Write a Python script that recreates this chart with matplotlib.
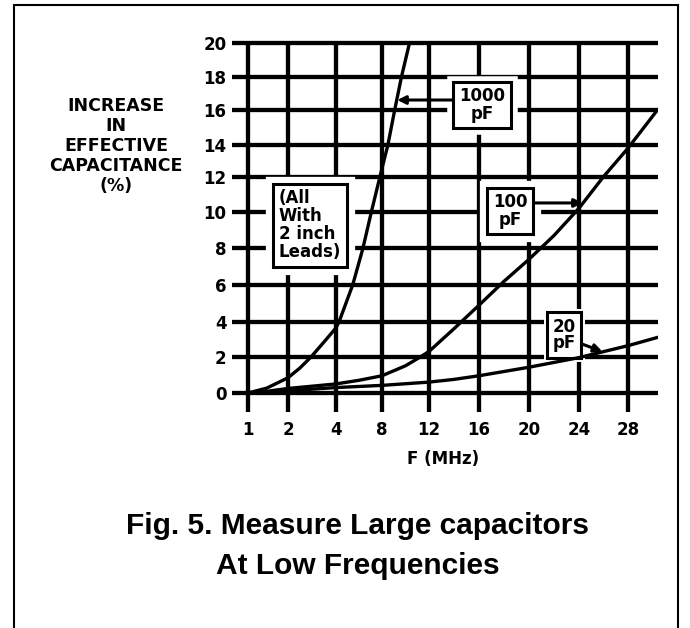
import matplotlib
matplotlib.use("Agg")
import matplotlib.pyplot as plt
import matplotlib.patheffects as pe
from matplotlib.patches import Rectangle
import numpy as np

# values
# F in MHz, increase in effective capacitance in %
x_ticks = [1, 2, 4, 8, 12, 16, 20, 24, 28]
y_ticks = [0, 2, 4, 6, 8, 10, 12, 14, 16, 18, 20]

f_1000 = [1, 1.47, 2, 2.5, 2.97, 3.6, 4, 4.27, 5.45, 6.34, 7.08, 7.82, 8.5, 9.08, 9.66, 10.34]
c_1000 = [0, 0.27, 0.84, 1.38, 2.0, 3.0, 3.65, 4.0, 6.0, 8.0, 10.0, 12.0, 14.0, 16.0, 18.0, 20.0]

f_100 = [1, 1.5, 2, 4, 6, 8, 10, 11.3, 12, 14, 16, 18, 20, 22, 24, 26, 28, 30.4]
c_100 = [0, 0.1, 0.25, 0.5, 0.7, 0.95, 1.5, 2.0, 2.3, 3.6, 4.9, 6.2, 7.4, 8.7, 10.2, 12.0, 13.8, 16.0]

f_20 = [1, 2, 4, 8, 12, 14, 16, 20, 24, 28, 30.4]
c_20 = [0, 0.12, 0.3, 0.42, 0.6, 0.75, 0.95, 1.42, 1.95, 2.63, 3.1]

# the hand drawn grid is not evenly spaced, so both axes use a piecewise scale
x_scale_val = [-10, 0, 1, 2, 4, 8, 12, 16, 20, 24, 28, 40]
x_scale_px = [-192, 208, 248, 288, 336, 382, 429, 479, 529, 579, 628, 775]
y_scale_val = [-10, 0, 2, 4, 6, 8, 10, 12, 14, 16, 18, 20, 30]
y_scale_px = [-181.5, 0, 36.3, 71.3, 108, 144.7, 181.3, 216.3, 248, 283, 316.3, 350, 516.5]


def fwd_x(v):
    return np.interp(v, x_scale_val, x_scale_px)


def inv_x(p):
    return np.interp(p, x_scale_px, x_scale_val)


def fwd_y(v):
    return np.interp(v, y_scale_val, y_scale_px)


def inv_y(p):
    return np.interp(p, y_scale_px, y_scale_val)


plt.rcParams['font.family'] = 'DejaVu Sans'
plt.rcParams['font.weight'] = 'bold'
plt.rcParams['axes.labelweight'] = 'bold'

fig = plt.figure(figsize=(6.9, 6.28), dpi=100)
ax = fig.add_axes([232 / 690, 216 / 628, 426 / 690, 370 / 628])
ax.set_xscale('function', functions=(fwd_x, inv_x))
ax.set_yscale('function', functions=(fwd_y, inv_y))
xlim = (float(inv_x(232)), float(inv_x(658)))
ylim = (float(inv_y(-19)), float(inv_y(351)))
ax.set_xlim(*xlim)
ax.set_ylim(*ylim)

for s in ax.spines.values():
    s.set_visible(False)

# heavy grid, lines run past the first line like tick stubs
ax.hlines(y_ticks, xlim[0], xlim[1], color='k', lw=3.1, zorder=1, clip_on=False)
ax.vlines(x_ticks, ylim[0], y_ticks[-1], color='k', lw=3.1, zorder=1, clip_on=False)

ax.set_xticks(x_ticks, [str(v) for v in x_ticks])
ax.set_yticks(y_ticks, [str(v) for v in y_ticks])
ax.tick_params(axis='both', length=0, labelsize=12)
ax.tick_params(axis='x', pad=6.5)
ax.tick_params(axis='y', pad=4)

ax.set_xlabel('F (MHz)', fontsize=12, va='center')
ax.xaxis.set_label_coords(0.495, -0.127)
ax.set_ylabel('INCREASE\nIN\nEFFECTIVE\nCAPACITANCE\n(%)', rotation=0, fontsize=12.5,
              ha='center', va='center', multialignment='center', linespacing=1.15)
ax.yaxis.set_label_coords(-0.272, 0.719)

for f, c in [(f_1000, c_1000), (f_100, c_100), (f_20, c_20)]:
    ax.plot(f, c, color='k', lw=2.4, zorder=4, solid_joinstyle='round')


def box(halo):
    return dict(boxstyle='square,pad=0.35', fc='white', ec='black', lw=2.2,
                path_effects=[pe.withStroke(linewidth=halo, foreground='white')])


arrow_kw = dict(arrowstyle='-|>', color='k', lw=2.2, mutation_scale=12, shrinkA=0, shrinkB=0)

ax.text(2.92, 9.25, '(All\nWith\n2 inch\nLeads)', ha='center', va='center',
        multialignment='left', fontsize=12, linespacing=1.0, zorder=3, bbox=box(11))

lab_1000 = ax.text(16.24, 16.3, '1000\npF', ha='center', va='center', fontsize=12,
                   linespacing=0.95, zorder=3, bbox=box(9))
ax.annotate('', xy=(9.3, 16.6), xytext=(16.24, 16.6),
            arrowprops=dict(arrow_kw, patchA=lab_1000.get_bbox_patch()), zorder=5)

lab_100 = ax.text(18.5, 10.04, '100\npF', ha='center', va='center', fontsize=12,
                  linespacing=0.95, zorder=3, bbox=box(11))
ax.annotate('', xy=(24.3, 10.5), xytext=(18.5, 10.5),
            arrowprops=dict(arrow_kw, patchA=lab_100.get_bbox_patch()), zorder=5)

lab_20 = ax.text(22.8, 3.24, '20\npF', ha='center', va='center', fontsize=12,
                 linespacing=0.85, zorder=3, bbox=box(5))
ax.annotate('', xy=(25.9, 2.3), xytext=(22.8, 3.1),
            arrowprops=dict(arrow_kw, patchA=lab_20.get_bbox_patch()), zorder=5)

fig.text(358 / 690, 1 - 546 / 628, 'Fig. 5. Measure Large capacitors\nAt Low Frequencies',
         ha='center', va='center', fontsize=21.5, fontweight='bold',
         family='Liberation Sans', linespacing=1.55)

# page frame of the scan
fig.add_artist(Rectangle((14 / 690, -0.05), 664 / 690, 1.05 - 5 / 628, transform=fig.transFigure,
                         fill=False, ec='k', lw=1.5))

fig.savefig('out.png', dpi=100, facecolor='white')
